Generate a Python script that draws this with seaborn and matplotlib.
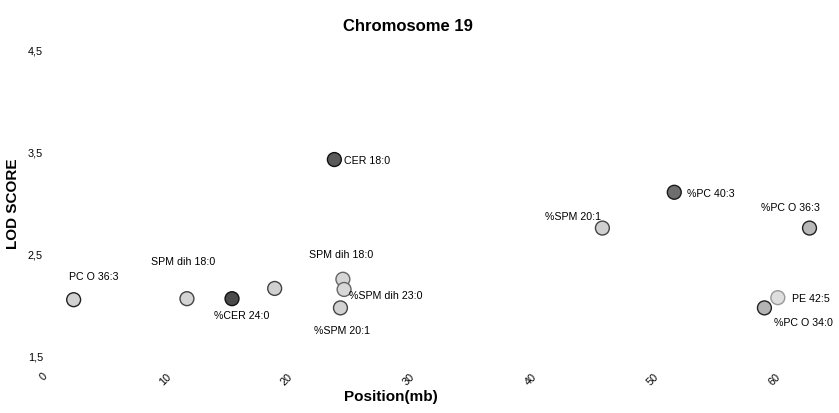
import matplotlib
matplotlib.use("Agg")
import matplotlib.pyplot as plt
import seaborn as sns
import pandas as pd

# QTL peaks on chromosome 19: position (Mb) and LOD score per trait
traits = ["PC O 36:3", "SPM dih 18:0", "%CER 24:0", "", "CER 18:0",
          "SPM dih 18:0", "%SPM dih 23:0", "%SPM 20:1", "%SPM 20:1",
          "%PC 40:3", "%PC O 36:3", "PE 42:5", "%PC O 34:0"]
position_mb = [2.5, 11.8, 15.5, 19.0, 23.9, 24.6, 24.7, 24.4, 45.9,
               51.8, 62.9, 60.3, 59.2]
lod_score = [2.05, 2.06, 2.06, 2.16, 3.42, 2.25, 2.15, 1.97, 2.75,
             3.10, 2.75, 2.07, 1.97]

x_ticks = [0, 10, 20, 30, 40, 50, 60]
y_ticks = [1.5, 2.5, 3.5, 4.5]
y_tick_labels = ["1,5", "2,5", "3,5", "4,5"]

# marker fill / edge shades and label offsets (pixels) for each trait
fills = ["#d2d2d2", "#d4d4d4", "#4a4a4a", "#d0d0d0", "#5a5a5a", "#d6d6d6",
         "#d8d8d8", "#d2d2d2", "#d0d0d0", "#6e6e6e", "#b8b8b8", "#dedede",
         "#b4b4b4"]
edges = ["#222222", "#444444", "#111111", "#444444", "#111111", "#666666",
         "#666666", "#444444", "#444444", "#1a1a1a", "#222222", "#999999",
         "#222222"]
offsets = [(-5, 24), (-36, 38), (-18, -16), (0, 0), (10, 0), (-34, 25),
           (5, -6), (-26, -22), (-57, 12), (13, -1), (-49, 21), (14, 0),
           (10, -14)]

df = pd.DataFrame({"pid": range(len(traits)), "trait": traits,
                   "pos": position_mb, "lod": lod_score})

sns.set_theme(style="white")
plt.rcParams["font.family"] = ["Liberation Sans", "DejaVu Sans"]

W, H = 839, 414
fig = plt.figure(figsize=(W / 100, H / 100), dpi=100)
ax_left, ax_right = 31, 829
ax_top, ax_bottom = 39.8, 367.2
ax = fig.add_axes([ax_left / W, 1 - ax_bottom / H,
                   (ax_right - ax_left) / W, (ax_bottom - ax_top) / H])

sns.scatterplot(data=df, x="pos", y="lod", hue="pid",
                palette=dict(zip(df["pid"], fills)), s=100,
                edgecolor=edges, linewidth=1.0, legend=False, ax=ax,
                zorder=3)

for i, row in df.iterrows():
    if row["trait"]:
        ax.annotate(row["trait"], (row["pos"], row["lod"]),
                    xytext=offsets[i], textcoords="offset pixels",
                    ha="left", va="center", fontsize=7.7, color="#000000")

ax.set_xlim(-1, 64.5)
ax.set_ylim(1.4, 4.6)
ax.set_xticks(x_ticks)
ax.set_xticklabels([str(t) for t in x_ticks], rotation=45, ha="center",
                   va="top", fontsize=7.8, color="#000000")
ax.set_yticks(y_ticks)
ax.set_yticklabels(y_tick_labels, fontsize=7.8, color="#000000")
ax.tick_params(axis="x", length=0, pad=3)
ax.tick_params(axis="y", length=0, pad=-8.6)
for sp in ax.spines.values():
    sp.set_visible(False)
ax.grid(False)

ax.set_xlabel("Position(mb)", fontsize=11, fontweight="bold", color="#000000")
ax.xaxis.set_label_coords((391 - ax_left) / (ax_right - ax_left),
                          (ax_bottom - 397) / (ax_bottom - ax_top))
ax.xaxis.label.set_va("center")
ax.set_ylabel("LOD SCORE", fontsize=11, fontweight="bold", color="#000000")
ax.yaxis.set_label_coords((13 - ax_left) / (ax_right - ax_left),
                          (ax_bottom - 204) / (ax_bottom - ax_top))
ax.yaxis.label.set_va("center")

ax.set_title("Chromosome 19", fontsize=12, fontweight="bold", color="#000000",
             x=(408 - ax_left) / (ax_right - ax_left),
             y=(ax_bottom - 26) / (ax_bottom - ax_top), va="center", pad=0)

fig.savefig("out.png", dpi=100, facecolor="white")
